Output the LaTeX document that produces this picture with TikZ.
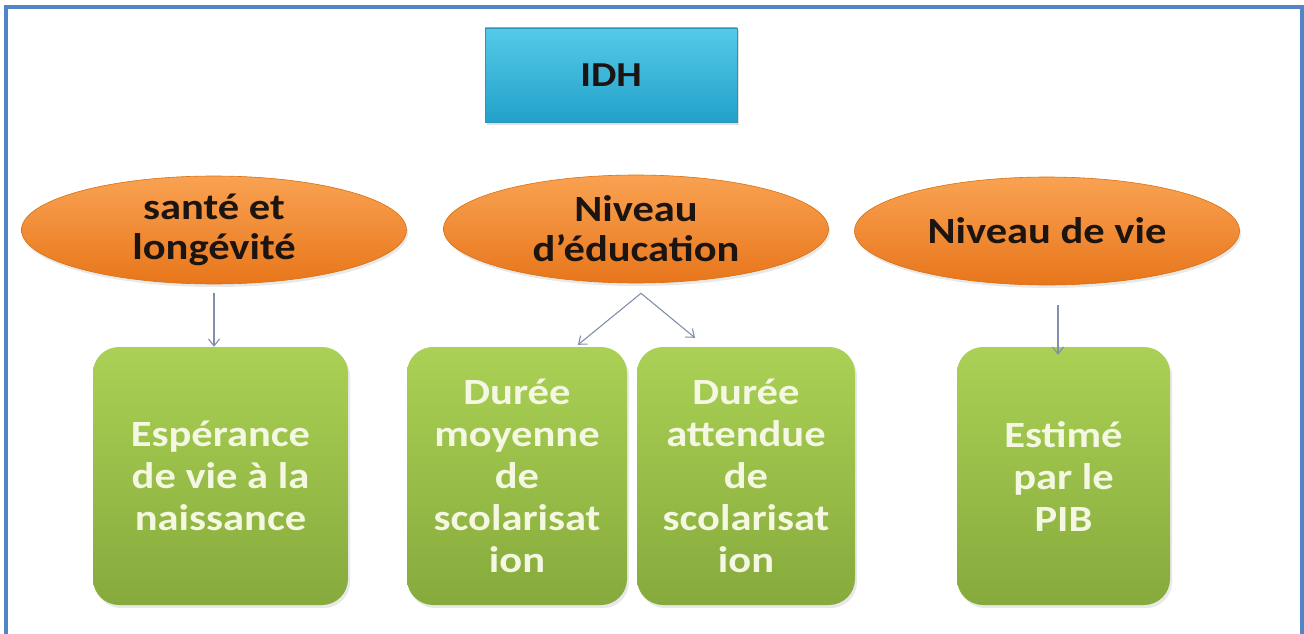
\documentclass[tikz,border=0pt]{standalone}
\usepackage{fontspec}
\setmainfont{Carlito}[FakeStretch=1.15]
\usetikzlibrary{shapes.geometric,arrows.meta,shadows}
\definecolor{frameblue}{HTML}{5285C8}
\definecolor{cyanT}{HTML}{55C9E8}
\definecolor{cyanB}{HTML}{22A2C9}
\definecolor{cyanD}{HTML}{2A93B8}
\definecolor{orangeT}{HTML}{F9A252}
\definecolor{orangeM}{HTML}{F7923A}
\definecolor{orangeB}{HTML}{E8761B}
\definecolor{orangeD}{HTML}{D8700F}
\definecolor{greenT}{HTML}{AAD155}
\definecolor{greenB}{HTML}{86AA3C}
\definecolor{greenTxt}{HTML}{F4F7E1}
\definecolor{darkTxt}{HTML}{1C1410}
\definecolor{connc}{HTML}{8090AC}
\begin{document}
\begin{tikzpicture}[x=1pt,y=-1pt,
  idhbox/.style={rectangle, minimum width=252pt, minimum height=94pt, inner sep=0pt,
    top color=cyanT, bottom color=cyanB, draw=cyanD, line width=0.6pt,
    drop shadow={shadow xshift=1.5pt, shadow yshift=-2.5pt, opacity=0.25},
    text=darkTxt, font=\fontsize{35}{40}\selectfont\bfseries},
  domainell/.style={ellipse, minimum width=385pt, minimum height=108pt, inner sep=0pt,
    top color=orangeT, middle color=orangeM, bottom color=orangeB, draw=orangeD, line width=0.6pt,
    drop shadow={shadow xshift=1.5pt, shadow yshift=-3pt, opacity=0.18},
    text=darkTxt, align=center, font=\fontsize{37}{40}\selectfont\bfseries},
  measurebox/.style={rectangle, rounded corners=26pt, minimum height=258pt, inner sep=0pt,
    top color=greenT, bottom color=greenB, draw=none,
    drop shadow={shadow xshift=2pt, shadow yshift=-3pt, opacity=0.18},
    text=greenTxt, align=center, font=\fontsize{37}{42}\selectfont\bfseries},
  conn/.style={draw=connc, line width=1.1pt, -{Straight Barb[length=7pt,width=11pt]}}
]
\useasboundingbox (0,0) rectangle (1304,634);
\draw[frameblue, line width=3.5pt] (6,640) -- (6,7) -- (1302,7) -- (1302,640);

\node[idhbox] (idh) at (611,75) {IDH};

\node[domainell] (e1) at (214,230) {santé et\\longévité};
\node[domainell] (e2) at (636,229) {Niveau\\d’éducation};
\node[domainell] (e3) at (1047,231) {Niveau de vie};

\node[measurebox, minimum width=255pt] (b1) at (220.5,476) {Espérance\\de vie à la\\naissance};
\node[measurebox, minimum width=220pt] (b2) at (517,476) {Durée\\moyenne\\de\\scolarisat\\ion};
\node[measurebox, minimum width=218pt] (b3) at (746,476) {Durée\\attendue\\de\\scolarisat\\ion};
\node[measurebox, minimum width=213pt] (b4) at (1063.5,476) {Estimé\\par le\\PIB};

\draw[conn] ([yshift=-9pt]e1.south) -- (e1.south |- b1.north);
\draw[conn] ([xshift=5pt,yshift=-10pt]e2.south) -- ([xshift=61pt,yshift=2pt]b2.north);
\draw[conn] ([xshift=5pt,yshift=-10pt]e2.south) -- ([xshift=-51pt,yshift=9pt]b3.north);
\draw[conn] ([xshift=11pt,yshift=-20pt]e3.south) -- ([xshift=-5.5pt,yshift=-8pt]b4.north);
\end{tikzpicture}
\end{document}
